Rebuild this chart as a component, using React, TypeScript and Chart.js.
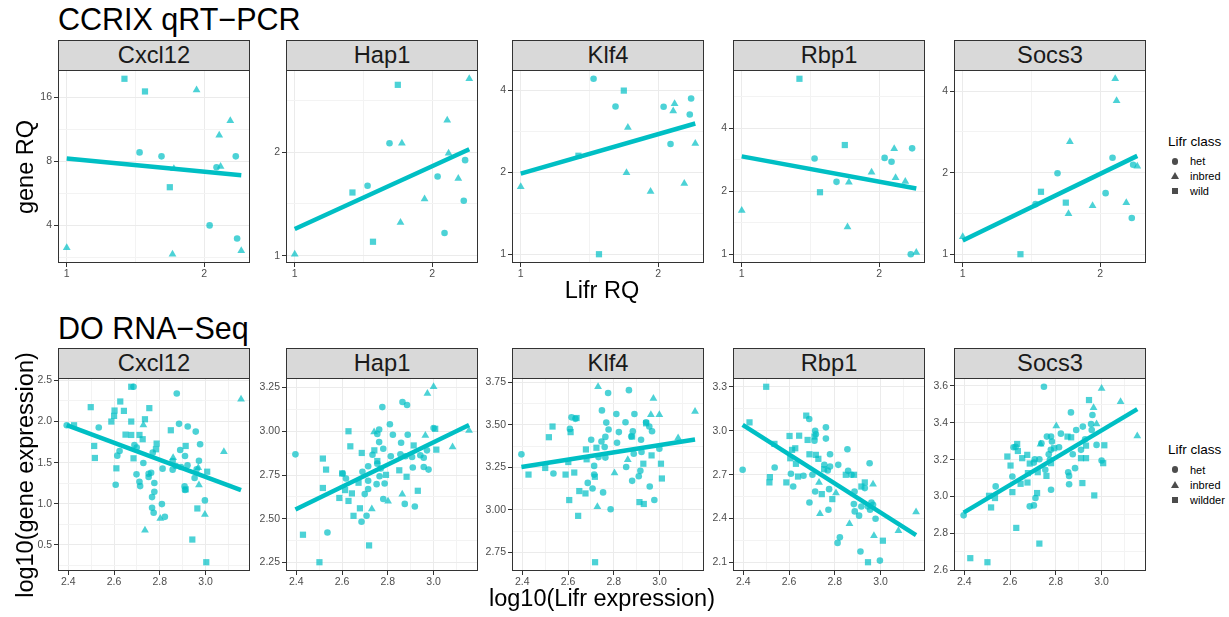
import React, { useEffect, useRef } from "react";
import { Chart, registerables } from "chart.js";
Chart.register(...registerables);

// ---------------- data ----------------
const genes = ["Cxcl12", "Hap1", "Klf4", "Rbp1", "Socs3"];

// CCRIX qRT-PCR (log2 axes)
const qpcrLifrRQ = [1.0, 1.338, 1.444, 1.484, 1.613, 1.682, 1.705, 1.717, 1.925, 2.056, 2.129, 2.158, 2.173, 2.282, 2.346, 2.362, 2.412];
const qpcrLifrClass = ["inbred", "wild", "het", "wild", "het", "wild", "inbred", "inbred", "inbred", "het", "het", "inbred", "inbred", "inbred", "het", "het", "inbred"];
const qpcrCxcl12 = [3.13, 19.5, 8.79, 17.0, 8.42, 6.03, 2.92, 7.36, 17.27, 3.99, 7.49, 10.58, 7.55, 12.37, 8.42, 3.46, 3.03];
const qpcrHap1 = [1.01, 1.527, 1.597, 1.098, 2.124, 3.14, 1.25, 2.124, 1.461, 1.7, 1.164, 2.477, 1.986, 1.677, 1.445, 1.896, 3.27];
const qpcrKlf4 = [1.77, 2.3, 4.41, 1.0, 3.49, 3.99, 1.99, 2.92, 1.7, 3.48, 2.54, 3.36, 3.57, 1.82, 3.26, 3.73, 2.55];
const qpcrRbp1 = [1.62, 6.91, 2.87, 1.98, 2.22, 3.33, 1.35, 2.21, 2.47, 2.89, 2.77, 3.2, 2.32, 2.23, 1.0, 3.21, 1.02];
const qpcrSocs3 = [1.16, 1.0, 1.53, 1.7, 1.99, 1.55, 1.41, 2.6, 1.51, 1.68, 2.27, 4.44, 3.68, 1.55, 1.36, 2.14, 2.11];
const qpcrXTicks = [1, 2];
const qpcrYTicks = [[4, 8, 16], [1, 2], [1, 2, 4], [1, 2, 4], [1, 2, 4]];

// DO RNA-Seq: [log10 Lifr expression, log10 gene expression]
type Pt = [number, number];
const doCxcl12Het: Pt[] = [[2.685,2.423],[2.874,2.341],[2.884,1.972],[2.922,1.939],[2.957,1.878],[2.976,1.724],[2.393,1.955],[2.533,1.927],[2.689,1.715],[2.699,1.683],[2.614,1.585],[2.889,1.654],[2.91,1.581],[2.856,1.52],[2.728,1.496],[2.971,1.524],[2.921,1.467],[2.961,1.419],[2.856,1.415],[2.812,1.427],[2.892,1.447],[2.698,1.358],[2.751,1.366],[2.751,1.325],[2.776,1.252],[2.711,1.268],[2.714,1.215],[2.607,1.232],[2.908,1.211],[2.91,1.167],[2.952,1.313],[2.776,1.146],[2.766,1.081],[2.766,0.951],[2.773,0.89],[2.809,0.996],[2.822,0.841],[2.997,1.041],[2.624,1.642],[2.87,1.459],[2.769,1.622],[2.762,1.378]];
const doCxcl12Inbred: Pt[] = [[3.155,2.272],[2.728,1.959],[3.08,1.634],[2.858,1.561],[2.971,1.228],[2.997,0.87],[2.735,0.679],[2.802,0.821],[2.968,1.439]];
const doCxcl12Wild: Pt[] = [[2.675,2.423],[2.498,2.175],[2.627,2.244],[2.602,2.134],[2.6,2.069],[2.643,2.13],[2.588,2.0],[2.675,2.0],[2.735,2.028],[2.754,2.163],[2.65,1.841],[2.675,1.837],[2.711,1.837],[2.725,1.785],[2.786,1.732],[2.848,1.894],[2.913,1.703],[2.513,1.703],[2.516,1.557],[2.685,1.553],[2.61,1.431],[3.007,1.39],[2.913,1.175],[2.964,0.943],[2.942,0.565],[3.003,0.289],[2.425,1.955],[2.783,1.663]];

const doHap1Het: Pt[] = [[2.396,2.868],[2.776,3.138],[2.864,3.167],[2.884,3.15],[2.809,3.04],[2.762,3.01],[2.754,2.985],[2.822,2.98],[2.887,2.98],[2.762,2.938],[2.858,2.934],[2.78,2.9],[2.813,2.857],[2.855,2.868],[2.877,2.857],[2.906,2.853],[2.942,2.863],[2.957,2.849],[2.971,2.891],[3.0,3.018],[2.733,2.866],[2.714,2.8],[2.754,2.815],[2.769,2.787],[2.764,2.743],[2.786,2.702],[2.751,2.698],[2.689,2.768],[2.714,2.717],[2.714,2.67],[2.699,2.641],[2.617,2.73],[2.603,2.759],[2.78,2.613],[2.874,2.585],[2.918,2.57],[2.909,2.793],[2.957,2.796],[2.978,2.781],[2.707,2.517],[2.685,2.483],[2.536,2.422]];
const doHap1Inbred: Pt[] = [[3.0,3.254],[2.973,3.216],[2.74,2.995],[2.964,2.976],[3.083,2.91],[3.155,3.004],[2.863,2.64],[2.801,2.6],[2.73,2.556]];
const doHap1Wild: Pt[] = [[2.628,3.0],[2.636,2.914],[2.686,2.876],[2.741,2.891],[2.754,2.83],[2.516,2.844],[2.53,2.781],[2.6,2.759],[2.613,2.664],[2.643,2.645],[2.628,2.602],[2.588,2.619],[2.678,2.56],[2.65,2.517],[2.516,2.676],[2.672,2.706],[2.792,2.751],[2.85,2.777],[2.882,2.74],[2.913,2.919],[2.931,2.66],[3.007,3.014],[3.012,2.895],[2.429,2.409],[2.501,2.252],[2.718,2.348]];

const doKlf4Het: Pt[] = [[2.775,3.688],[2.866,3.705],[2.748,3.586],[2.811,3.565],[2.89,3.565],[2.851,3.516],[2.615,3.545],[2.632,3.536],[2.608,3.477],[2.767,3.514],[2.777,3.473],[2.822,3.458],[2.883,3.463],[2.941,3.516],[2.955,3.491],[2.967,3.463],[2.701,3.413],[2.746,3.403],[2.763,3.43],[2.814,3.395],[2.76,3.37],[2.733,3.311],[2.763,3.308],[2.714,3.259],[2.854,3.253],[2.396,3.327],[2.536,3.214],[2.714,3.208],[2.686,3.159],[2.707,3.126],[2.753,3.103],[2.786,3.004],[2.88,3.171],[2.909,3.198],[2.916,3.23],[2.919,3.413],[2.887,3.331],[2.921,3.341],[2.957,3.138],[2.977,3.058],[2.999,3.36],[2.876,3.432]];
const doKlf4Inbred: Pt[] = [[2.731,3.725],[2.973,3.656],[2.962,3.561],[2.999,3.561],[3.155,3.58],[3.081,3.423],[2.803,3.218],[2.861,3.296],[2.728,3.019]];
const doKlf4Wild: Pt[] = [[2.637,3.541],[2.532,3.491],[2.516,3.428],[2.611,3.458],[2.5,3.247],[2.427,3.208],[2.589,3.208],[2.627,3.22],[2.678,3.356],[2.681,3.298],[2.724,3.366],[2.717,3.195],[2.601,3.282],[2.649,3.111],[2.676,3.097],[2.605,3.058],[2.644,2.965],[2.718,2.692],[2.88,3.432],[2.929,3.272],[2.965,3.321],[3.006,3.272],[3.01,3.185],[2.912,3.046],[2.931,3.035],[2.941,3.51]];

const doRbp1Het: Pt[] = [[2.688,3.08],[2.714,3.0],[2.717,2.976],[2.761,3.023],[2.761,2.946],[2.711,2.932],[2.855,2.873],[2.779,2.839],[2.537,2.749],[2.397,2.733],[2.608,2.706],[2.618,2.619],[2.754,2.767],[2.779,2.755],[2.769,2.728],[2.815,2.767],[2.702,2.699],[2.663,2.692],[2.858,2.726],[2.873,2.699],[2.952,2.778],[2.714,2.585],[2.775,2.601],[2.886,2.585],[2.931,2.608],[2.689,2.51],[2.772,2.46],[2.883,2.499],[2.887,2.449],[2.906,2.42],[2.916,2.483],[2.945,2.483],[2.96,2.51],[2.967,2.494],[2.954,2.46],[2.978,2.399],[2.822,2.272],[2.812,2.234],[2.912,2.175],[2.997,2.113]];
const doRbp1Inbred: Pt[] = [[2.967,2.635],[2.731,2.647],[2.805,2.574],[2.735,2.433],[2.864,2.365],[2.971,2.283],[3.078,2.317],[3.155,2.445]];
const doRbp1Wild: Pt[] = [[2.5,3.3],[2.427,3.057],[2.675,3.103],[2.602,2.964],[2.644,2.966],[2.681,2.937],[2.711,2.96],[2.536,2.91],[2.627,2.88],[2.613,2.869],[2.689,2.839],[2.717,2.835],[2.728,2.808],[2.605,2.812],[2.63,2.774],[2.516,2.683],[2.514,2.647],[2.588,2.647],[2.639,2.687],[2.743,2.567],[2.789,2.533],[2.848,2.699],[2.884,2.699],[2.931,2.647],[2.916,2.619],[3.01,2.249],[2.945,2.102],[2.753,2.737]];

const doSocs3Het: Pt[] = [[2.748,3.595],[2.866,3.456],[2.96,3.442],[2.954,3.393],[2.918,3.379],[2.889,3.361],[2.822,3.341],[2.761,3.325],[2.779,3.325],[2.783,3.298],[2.814,3.267],[2.778,3.253],[2.769,3.229],[2.774,3.199],[2.728,3.202],[2.708,3.202],[2.704,3.184],[2.624,3.269],[2.615,3.267],[2.61,3.109],[2.537,3.055],[2.711,2.992],[2.704,2.952],[2.686,2.947],[2.779,3.037],[2.754,3.145],[2.874,3.229],[2.854,3.132],[2.858,3.112],[2.858,3.067],[2.884,3.154],[2.928,3.31],[2.957,3.361],[2.978,3.28],[3.0,3.195],[2.91,3.253],[2.397,2.898],[2.737,3.289]];
const doSocs3Inbred: Pt[] = [[3.0,3.586],[3.083,3.514],[2.965,3.481],[2.978,3.393],[2.802,3.382],[2.733,3.283],[3.156,3.328]];
const doSocs3Wild: Pt[] = [[2.945,3.523],[2.851,3.325],[2.867,3.321],[2.631,3.285],[2.634,3.247],[2.653,3.208],[2.675,3.226],[2.588,3.217],[2.602,3.168],[2.686,3.179],[2.721,3.132],[2.678,3.127],[2.759,3.112],[2.779,3.181],[2.793,3.262],[2.718,3.019],[2.61,3.024],[2.646,3.069],[2.676,3.076],[2.91,3.208],[2.932,3.208],[2.932,3.276],[3.012,3.278],[3.007,3.181],[2.916,3.073],[2.968,3.006],[2.508,3.004],[2.517,2.941],[2.534,2.992],[2.627,2.83],[2.728,2.745],[2.426,2.666],[2.501,2.644]];

const doXTicks = ["2.4", "2.6", "2.8", "3.0"];
const doYTicks = [
  ["0.5", "1.0", "1.5", "2.0", "2.5"],
  ["2.25", "2.50", "2.75", "3.00", "3.25"],
  ["2.75", "3.00", "3.25", "3.50", "3.75"],
  ["2.1", "2.4", "2.7", "3.0", "3.3"],
  ["2.6", "2.8", "3.0", "3.2", "3.4", "3.6"],
];
const legendTop = ["het", "inbred", "wild"];
const legendBottom = ["het", "inbred", "wildder"];

// ---------------- layout / style ----------------
const FONT = "'Liberation Sans', Arial, Helvetica, sans-serif";
const LINE_COLOR = "#00BFC4";
const POINT_COLOR = "rgba(0,191,196,0.7)";
const COL_LEFT = [58, 286, 512, 733, 954];
const PANEL_W = 192;
const PANEL_H = 193;
const ROW_TOP = [70, 378];
const STRIP_H = 30;
const M_LEFT = 50, M_RIGHT = 14, M_TOP = 6, M_BOTTOM = 24;

type Tick = { v: number; txt: string; minor: boolean };
type Spec = {
  name: string;
  het: Pt[]; inbred: Pt[]; wild: Pt[];
  xr: [number, number]; yr: [number, number];
  xTicks: Tick[]; yTicks: Tick[];
};

function expand(vals: number[]): [number, number] {
  const lo = Math.min(...vals), hi = Math.max(...vals), d = (hi - lo) * 0.05;
  return [lo - d, hi + d];
}

function withMinor(majors: { v: number; txt: string }[], r: [number, number]): Tick[] {
  const step = majors[1].v - majors[0].v;
  const out: Tick[] = majors.map((m) => ({ ...m, minor: false }));
  const cands = [majors[0].v - step / 2, ...majors.map((m) => m.v + step / 2)];
  cands.forEach((v) => { if (v >= r[0] && v <= r[1]) out.push({ v, txt: "", minor: true }); });
  return out.sort((a, b) => a.v - b.v);
}

function fitLine(pts: Pt[]) {
  const n = pts.length;
  const mx = pts.reduce((s, p) => s + p[0], 0) / n;
  const my = pts.reduce((s, p) => s + p[1], 0) / n;
  let sxx = 0, sxy = 0;
  pts.forEach((p) => { sxx += (p[0] - mx) ** 2; sxy += (p[0] - mx) * (p[1] - my); });
  const b = sxy / sxx, a = my - b * mx;
  const x0 = Math.min(...pts.map((p) => p[0])), x1 = Math.max(...pts.map((p) => p[0]));
  return [{ x: x0, y: a + b * x0 }, { x: x1, y: a + b * x1 }];
}

// top row specs
const qpcrValues = [qpcrCxcl12, qpcrHap1, qpcrKlf4, qpcrRbp1, qpcrSocs3];
const topLx = qpcrLifrRQ.map(Math.log2);
const topXr = expand(topLx);
const topXTicks = withMinor(qpcrXTicks.map((t) => ({ v: Math.log2(t), txt: String(t) })), topXr);
const topSpecs: Spec[] = genes.map((g, gi) => {
  const ly = qpcrValues[gi].map(Math.log2);
  const yr = expand(ly);
  const pick = (c: string) => topLx.map((x, i) => [x, ly[i]] as Pt).filter((_, i) => qpcrLifrClass[i] === c);
  return {
    name: g, het: pick("het"), inbred: pick("inbred"), wild: pick("wild"),
    xr: topXr, yr, xTicks: topXTicks,
    yTicks: withMinor(qpcrYTicks[gi].map((t) => ({ v: Math.log2(t), txt: String(t) })), yr),
  };
});

// bottom row specs
const doSets: Pt[][][] = [
  [doCxcl12Het, doCxcl12Inbred, doCxcl12Wild],
  [doHap1Het, doHap1Inbred, doHap1Wild],
  [doKlf4Het, doKlf4Inbred, doKlf4Wild],
  [doRbp1Het, doRbp1Inbred, doRbp1Wild],
  [doSocs3Het, doSocs3Inbred, doSocs3Wild],
];
const botXr = expand(doSets.flat(2).map((p) => p[0]));
const botXTicks = withMinor(doXTicks.map((t) => ({ v: parseFloat(t), txt: t })), botXr);
const botSpecs: Spec[] = genes.map((g, gi) => {
  const [het, inbred, wild] = doSets[gi];
  const yr = expand([...het, ...inbred, ...wild].map((p) => p[1]));
  return {
    name: g, het, inbred, wild, xr: botXr, yr, xTicks: botXTicks,
    yTicks: withMinor(doYTicks[gi].map((t) => ({ v: parseFloat(t), txt: t })), yr),
  };
});

// ---------------- chart ----------------
const framePlugin = {
  id: "frame",
  afterDatasetsDraw(chart: any) {
    const { ctx, chartArea: a } = chart;
    ctx.save();
    ctx.strokeStyle = "#333333";
    ctx.lineWidth = 1;
    ctx.strokeRect(Math.round(a.left) + 0.5, Math.round(a.top) + 0.5, Math.round(a.right - a.left) - 1, Math.round(a.bottom - a.top) - 1);
    ctx.restore();
  },
};

function axis(r: [number, number], ticks: Tick[], isX: boolean) {
  return {
    type: "linear",
    min: r[0],
    max: r[1],
    afterBuildTicks: (s: any) => { s.ticks = ticks.map((t) => ({ value: t.v, txt: t.txt, minor: t.minor })); },
    afterFit: (s: any) => {
      if (isX) { s.height = M_BOTTOM; s.paddingLeft = 0; s.paddingRight = 0; }
      else { s.width = M_LEFT; s.paddingTop = 0; s.paddingBottom = 0; }
    },
    ticks: {
      autoSkip: false, maxRotation: 0, minRotation: 0,
      padding: isX ? 1 : 2,
      color: "#4D4D4D",
      font: { family: FONT, size: 10.5 },
      callback: (_v: any, i: number, arr: any[]) => (arr[i] && !arr[i].minor ? arr[i].txt : ""),
    },
    grid: {
      color: (c: any) => (c.tick && c.tick.minor ? "#F3F3F3" : "#EBEBEB"),
      lineWidth: 1,
      drawTicks: true,
      tickLength: 4,
      tickWidth: 1,
      tickColor: (c: any) => (c.tick && c.tick.minor ? "rgba(0,0,0,0)" : "#333333"),
    },
    border: { display: false },
  };
}

function toXY(p: Pt[]) { return p.map(([x, y]) => ({ x, y })); }

function Panel({ spec, left, top }: { spec: Spec; left: number; top: number }) {
  const ref = useRef<HTMLCanvasElement>(null);
  useEffect(() => {
    const all = [...spec.het, ...spec.inbred, ...spec.wild];
    const pointDs = (pts: Pt[], style: string, r: number) => ({
      data: toXY(pts), pointStyle: style, pointRadius: r, pointHoverRadius: r,
      backgroundColor: POINT_COLOR, borderWidth: 0, showLine: false,
    });
    const chart = new Chart(ref.current as HTMLCanvasElement, {
      type: "scatter",
      data: {
        datasets: [
          { data: fitLine(all), showLine: true, borderColor: LINE_COLOR, borderWidth: 4.5, pointRadius: 0, pointHoverRadius: 0, fill: false } as any,
          pointDs(spec.het, "circle", 3.3),
          pointDs(spec.inbred, "triangle", 4.5),
          pointDs(spec.wild, "rect", 4.4),
        ],
      },
      options: {
        animation: false,
        responsive: false,
        events: [],
        layout: { padding: { top: M_TOP, right: M_RIGHT, left: 0, bottom: 0 } },
        plugins: { legend: { display: false }, tooltip: { enabled: false } },
        scales: { x: axis(spec.xr, spec.xTicks, true), y: axis(spec.yr, spec.yTicks, false) } as any,
      },
      plugins: [framePlugin],
    } as any);
    return () => chart.destroy();
  }, [spec]);
  const w = M_LEFT + PANEL_W + M_RIGHT, h = M_TOP + PANEL_H + M_BOTTOM;
  return (
    <>
      <canvas ref={ref} width={w} height={h}
        style={{ position: "absolute", left: left - M_LEFT, top: top - M_TOP, width: w, height: h }} />
      <div style={{
        position: "absolute", left, top: top - STRIP_H, width: PANEL_W, height: STRIP_H,
        boxSizing: "border-box", border: "1px solid #333333", borderBottom: "none",
        background: "#D9D9D9", fontFamily: FONT, fontSize: 23.7, lineHeight: `${STRIP_H - 1}px`,
        textAlign: "center", color: "#1A1A1A", whiteSpace: "nowrap",
      }}>{spec.name}</div>
    </>
  );
}

function Txt({ x, baseline, size, children, center }: any) {
  return (
    <div style={{
      position: "absolute", left: center ? x - 300 : x, width: center ? 600 : undefined,
      textAlign: center ? "center" : "left",
      top: baseline - 0.8465 * size, fontFamily: FONT, fontSize: size, lineHeight: `${size}px`,
      color: "#000", whiteSpace: "nowrap",
    }}>{children}</div>
  );
}

function VTxt({ cx, cy, size, children }: any) {
  return (
    <div style={{
      position: "absolute", left: cx, top: cy, transform: "translate(-50%,-50%) rotate(-90deg)",
      fontFamily: FONT, fontSize: size, lineHeight: `${size}px`, color: "#000", whiteSpace: "nowrap",
    }}>{children}</div>
  );
}

function Legend({ cy, labels }: { cy: number; labels: string[] }) {
  const col = "rgba(0,0,0,0.7)";
  const sym = [
    <div style={{ width: 6.5, height: 6.5, borderRadius: "50%", background: col, marginLeft: -3.25, marginTop: -3.25 }} />,
    <div style={{ width: 0, height: 0, borderLeft: "4px solid transparent", borderRight: "4px solid transparent", borderBottom: `7px solid ${col}`, marginLeft: -4, marginTop: -4 }} />,
    <div style={{ width: 6, height: 6, background: col, marginLeft: -3, marginTop: -3 }} />,
  ];
  return (
    <>
      <div style={{ position: "absolute", left: 1168, top: cy - 7, fontFamily: FONT, fontSize: 13.5, lineHeight: "14px", whiteSpace: "nowrap", color: "#000" }}>Lifr class</div>
      {labels.map((lab, i) => (
        <React.Fragment key={lab}>
          <div style={{ position: "absolute", left: 1175, top: cy + 19.7 + 15 * i }}>{sym[i]}</div>
          <div style={{ position: "absolute", left: 1190, top: cy + 19.7 + 15 * i - 6, fontFamily: FONT, fontSize: 11, lineHeight: "12px", whiteSpace: "nowrap", color: "#000" }}>{lab}</div>
        </React.Fragment>
      ))}
    </>
  );
}

export default function App() {
  return (
    <div style={{ position: "fixed", left: 0, top: 0, width: 1229, height: 617, background: "#fff", overflow: "hidden" }}>
      <Txt x={58} baseline={30} size={30.5}>CCRIX qRT−PCR</Txt>
      <Txt x={58} baseline={338.5} size={30.5}>DO RNA−Seq</Txt>
      {topSpecs.map((s, i) => <Panel key={"t" + i} spec={s} left={COL_LEFT[i]} top={ROW_TOP[0]} />)}
      {botSpecs.map((s, i) => <Panel key={"b" + i} spec={s} left={COL_LEFT[i]} top={ROW_TOP[1]} />)}
      <VTxt cx={26} cy={166.5} size={23.5}>gene RQ</VTxt>
      <VTxt cx={26} cy={474.5} size={23.5}>log10(gene expression)</VTxt>
      <Txt x={602} baseline={299} size={23.5} center>Lifr RQ</Txt>
      <Txt x={602} baseline={607} size={23.5} center>log10(Lifr expression)</Txt>
      <Legend cy={141.7} labels={legendTop} />
      <Legend cy={450} labels={legendBottom} />
    </div>
  );
}
